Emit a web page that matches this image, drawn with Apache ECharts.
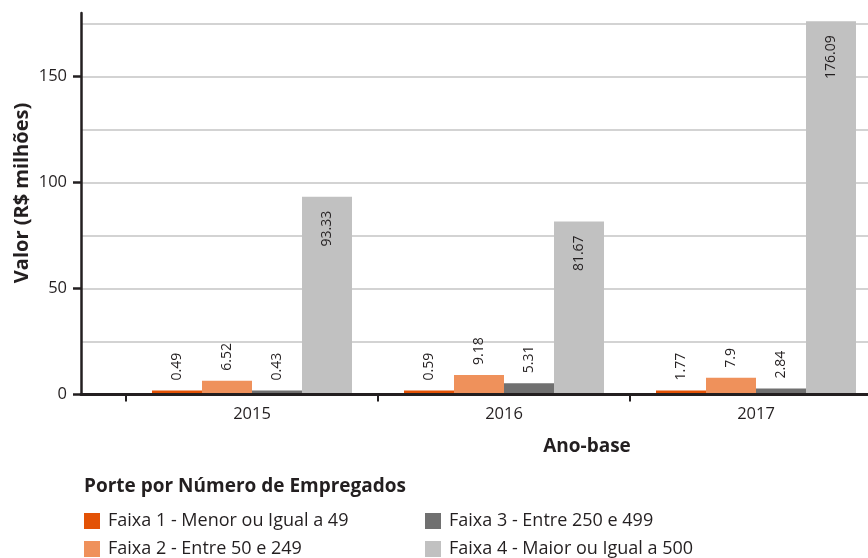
<!DOCTYPE html>
<html>
<head>
<meta charset="utf-8">
<script src="https://cdn.jsdelivr.net/npm/echarts@6/dist/echarts.min.js"></script>
<style>
  html, body { margin: 0; padding: 0; background: #ffffff; }
  #chart { width: 868px; height: 558px; }
</style>
</head>
<body>
<div id="chart"></div>
<script>
// Anos-base (categorias do eixo X)
const years = ['2015', '2016', '2017'];

// Nomes das faixas de porte
const seriesNames = [
  'Faixa 1 - Menor ou Igual a 49',
  'Faixa 2 - Entre 50 e 249',
  'Faixa 3 - Entre 250 e 499',
  'Faixa 4 - Maior ou Igual a 500'
];

// Valores em R$ milhões por faixa
const faixa1 = [0.49, 0.59, 1.77];
const faixa2 = [6.52, 9.18, 7.9];
const faixa3 = [0.43, 5.31, 2.84];
const faixa4 = [93.33, 81.67, 176.09];

// Rótulos do eixo Y
const yTickLabels = [0, 50, 100, 150];

const FONT = '"Open Sans", sans-serif';
const INK = '#231f20';
const colors = ['#e35205', '#ef915b', '#707070', '#c1c1c1'];
const Y_MAX = 180;

const chart = echarts.init(document.getElementById('chart'), null, { renderer: 'canvas' });

const smallLabel = {
  show: true,
  position: 'top',
  rotate: 90,
  align: 'left',
  verticalAlign: 'middle',
  distance: 10,
  color: INK,
  fontFamily: FONT,
  fontSize: 14
};

const insideLabel = {
  show: true,
  position: 'insideTop',
  rotate: 90,
  align: 'right',
  verticalAlign: 'middle',
  distance: 14,
  color: INK,
  fontFamily: FONT,
  fontSize: 14
};

const seriesData = [faixa1, faixa2, faixa3, faixa4];

const legendBase = {
  orient: 'vertical',
  top: 512,
  padding: 0,
  itemWidth: 16, itemHeight: 16,
  itemGap: 10,
  icon: 'rect',
  textStyle: { fontFamily: FONT, fontSize: 18, color: INK, padding: [0, 0, 0, 3] }
};

const option = {
  animation: false,
  backgroundColor: '#ffffff',
  textStyle: { fontFamily: FONT },
  title: [
    {
      text: 'Ano-base',
      left: 587, top: 437,
      padding: 0,
      textAlign: 'center',
      textStyle: { fontFamily: FONT, fontSize: 19, fontWeight: 'bold', color: INK }
    },
    {
      text: 'Porte por Número de Empregados',
      left: 84, top: 477,
      padding: 0,
      textStyle: { fontFamily: FONT, fontSize: 19, fontWeight: 'bold', color: INK }
    }
  ],
  graphic: [
    {
      type: 'text',
      x: 22, y: 193,
      rotation: Math.PI / 2,
      style: {
        text: 'Valor (R$ milhões)',
        fill: INK,
        font: 'bold 20px "Open Sans", sans-serif',
        align: 'center',
        verticalAlign: 'middle'
      }
    }
  ],
  legend: [
    Object.assign({}, legendBase, { left: 84, data: [seriesNames[0], seriesNames[1]] }),
    Object.assign({}, legendBase, { left: 425, data: [seriesNames[2], seriesNames[3]] })
  ],
  grid: [
    // moldura: linhas de eixo e de grade
    { left: 81, top: 13, width: 801, height: 381.5, outerBoundsMode: 'none' },
    // barras
    { left: 126, top: 13, width: 756, height: 381.5, outerBoundsMode: 'none' }
  ],
  xAxis: [
    {
      gridIndex: 0,
      type: 'value',
      min: 0, max: 1,
      z: 5,
      axisLine: { show: true, onZero: false, lineStyle: { color: INK, width: 3 } },
      axisTick: { show: false },
      axisLabel: { show: false },
      splitLine: { show: false }
    },
    {
      gridIndex: 1,
      type: 'category',
      data: years,
      axisLine: { show: false },
      axisTick: { show: true, length: 7, lineStyle: { color: INK, width: 2 } },
      axisLabel: { color: INK, fontFamily: FONT, fontSize: 16.5, margin: 11 },
      splitLine: { show: false }
    }
  ],
  yAxis: [
    {
      // linhas de grade a cada 25
      gridIndex: 0,
      type: 'value',
      min: 0, max: Y_MAX, interval: 25,
      axisLine: { show: false },
      axisTick: { show: false },
      axisLabel: { show: false },
      splitLine: { show: true, showMaxLine: false, lineStyle: { color: '#c4c4c4', width: 1.5 } }
    },
    {
      // linha do eixo, marcas e rótulos a cada 50
      gridIndex: 0,
      type: 'value',
      min: 0, max: Y_MAX, interval: 50,
      position: 'left',
      z: 5,
      axisLine: { show: true, lineStyle: { color: INK, width: 2.5 } },
      axisTick: { show: true, length: 8, customValues: yTickLabels, lineStyle: { color: INK, width: 2.5 } },
      axisLabel: {
        customValues: yTickLabels,
        color: INK, fontFamily: FONT, fontSize: 16.5, margin: 14
      },
      splitLine: { show: false }
    },
    {
      gridIndex: 1,
      type: 'value',
      min: 0, max: Y_MAX,
      show: false,
      splitLine: { show: false }
    }
  ],
  series: seriesData.map((values, i) => ({
    name: seriesNames[i],
    type: 'bar',
    xAxisIndex: 1,
    yAxisIndex: 2,
    data: values,
    barWidth: 50,
    barGap: '0%',
    barMinHeight: 4,
    itemStyle: { color: colors[i] },
    label: i === 3 ? insideLabel : smallLabel
  }))
};

chart.setOption(option);
</script>
</body>
</html>
